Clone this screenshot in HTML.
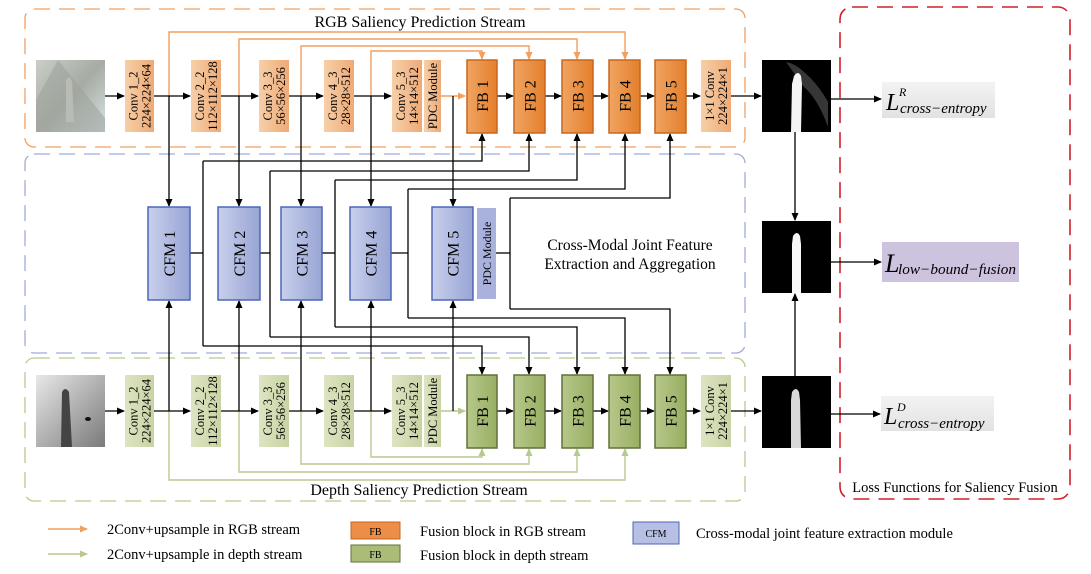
<!DOCTYPE html>
<html><head><meta charset="utf-8"><style>
body{margin:0;background:#fff}
svg{display:block;font-family:"Liberation Serif",serif}
</style></head><body>
<svg width="1091" height="574" viewBox="0 0 1091 574" xmlns="http://www.w3.org/2000/svg">
<defs>
<marker id="ab" markerWidth="8" markerHeight="8" refX="7" refY="4" orient="auto" markerUnits="userSpaceOnUse"><path d="M0,0.5 L8,4 L0,7.5 z" fill="#000"/></marker>
<marker id="ao" markerWidth="8" markerHeight="8" refX="7" refY="4" orient="auto" markerUnits="userSpaceOnUse"><path d="M0,0.5 L8,4 L0,7.5 z" fill="#f0a060"/></marker>
<marker id="ag" markerWidth="8" markerHeight="8" refX="7" refY="4" orient="auto" markerUnits="userSpaceOnUse"><path d="M0,0.5 L8,4 L0,7.5 z" fill="#b8c98e"/></marker>
<linearGradient id="gco" x1="0" x2="1"><stop offset="0" stop-color="#f7cfa8"/><stop offset="1" stop-color="#eeaa76"/></linearGradient>
<linearGradient id="gfo" x1="0" x2="1"><stop offset="0" stop-color="#f0a462"/><stop offset="1" stop-color="#e37f2c"/></linearGradient>
<linearGradient id="gcg" x1="0" x2="1"><stop offset="0" stop-color="#dde4c2"/><stop offset="1" stop-color="#c8d3a4"/></linearGradient>
<linearGradient id="gfg" x1="0" x2="1"><stop offset="0" stop-color="#b6c88a"/><stop offset="1" stop-color="#98ae62"/></linearGradient>
<linearGradient id="gcf" x1="0" x2="1"><stop offset="0" stop-color="#c8d0ec"/><stop offset="1" stop-color="#98a4d4"/></linearGradient>
<linearGradient id="grgb" x1="0" y1="0" x2="1" y2="1"><stop offset="0" stop-color="#c9cfc8"/><stop offset="0.5" stop-color="#a6aca4"/><stop offset="1" stop-color="#d7e3e3"/></linearGradient>
<linearGradient id="gdep" x1="0" y1="0" x2="1" y2="1"><stop offset="0" stop-color="#e8e8e8"/><stop offset="1" stop-color="#7a7a7a"/></linearGradient>
<linearGradient id="gloss" x1="0" y1="0" x2="0" y2="1"><stop offset="0" stop-color="#f3f3f3"/><stop offset="1" stop-color="#e2e2e2"/></linearGradient>
</defs>

<rect x="25" y="9" width="720" height="138" rx="9" fill="none" stroke="#f0a060" stroke-width="1.3" stroke-dasharray="16,9"/>
<rect x="25" y="154" width="720" height="199" rx="9" fill="none" stroke="#a0acd8" stroke-width="1.3" stroke-dasharray="16,9"/>
<rect x="25" y="358" width="720" height="143" rx="9" fill="none" stroke="#b8c98e" stroke-width="1.3" stroke-dasharray="16,9"/>
<rect x="840" y="7" width="230" height="492" rx="12" fill="none" stroke="#d0202a" stroke-width="1.6" stroke-dasharray="16,9"/>

<text x="420" y="27" font-size="16" text-anchor="middle">RGB Saliency Prediction Stream</text>
<text x="419" y="495" font-size="16" text-anchor="middle">Depth Saliency Prediction Stream</text>
<text x="630" y="250" font-size="15.5" text-anchor="middle">Cross-Modal Joint Feature</text>
<text x="630" y="269" font-size="15.5" text-anchor="middle">Extraction and Aggregation</text>
<text x="955" y="492" font-size="14.5" text-anchor="middle">Loss Functions for Saliency Fusion</text>

<g fill="none" stroke="#f0a060" stroke-width="1.4">
<path d="M169,96 V32 H625 V59" marker-end="url(#ao)"/>
<path d="M239,96 V39 H577 V59" marker-end="url(#ao)"/>
<path d="M301,96 V46 H529 V59" marker-end="url(#ao)"/>
<path d="M371,96 V51 H482 V59" marker-end="url(#ao)"/>
<path d="M441,96 H465" marker-end="url(#ao)"/>
</g>
<g fill="none" stroke="#b8c98e" stroke-width="1.4">
<path d="M169,411 V480 H625 V449" marker-end="url(#ag)"/>
<path d="M239,411 V472 H577 V449" marker-end="url(#ag)"/>
<path d="M301,411 V464 H529 V449" marker-end="url(#ag)"/>
<path d="M371,411 V457 H482 V449" marker-end="url(#ag)"/>
<path d="M441,411 H465" marker-end="url(#ag)"/>
</g>

<g fill="none" stroke="#000" stroke-width="1.3">
<path d="M105,96 H124" marker-end="url(#ab)"/>
<path d="M154,96 H190" marker-end="url(#ab)"/>
<path d="M221,96 H258" marker-end="url(#ab)"/>
<path d="M289,96 H323" marker-end="url(#ab)"/>
<path d="M354,96 H391" marker-end="url(#ab)"/>
<path d="M497,96 H513" marker-end="url(#ab)"/>
<path d="M545,96 H561" marker-end="url(#ab)"/>
<path d="M593,96 H608" marker-end="url(#ab)"/>
<path d="M640,96 H654" marker-end="url(#ab)"/>
<path d="M686,96 H700" marker-end="url(#ab)"/>
<path d="M731,96 H761" marker-end="url(#ab)"/>
<path d="M105,411 H124" marker-end="url(#ab)"/>
<path d="M154,411 H190" marker-end="url(#ab)"/>
<path d="M221,411 H258" marker-end="url(#ab)"/>
<path d="M289,411 H323" marker-end="url(#ab)"/>
<path d="M354,411 H391" marker-end="url(#ab)"/>
<path d="M497,411 H513" marker-end="url(#ab)"/>
<path d="M545,411 H561" marker-end="url(#ab)"/>
<path d="M593,411 H608" marker-end="url(#ab)"/>
<path d="M640,411 H654" marker-end="url(#ab)"/>
<path d="M686,411 H700" marker-end="url(#ab)"/>
<path d="M731,411 H761" marker-end="url(#ab)"/>
<path d="M169,96 V206" marker-end="url(#ab)"/>
<path d="M239,96 V206" marker-end="url(#ab)"/>
<path d="M301,96 V206" marker-end="url(#ab)"/>
<path d="M371,96 V206" marker-end="url(#ab)"/>
<path d="M453,96 V206" marker-end="url(#ab)"/>
<path d="M169,411 V301" marker-end="url(#ab)"/>
<path d="M239,411 V301" marker-end="url(#ab)"/>
<path d="M301,411 V301" marker-end="url(#ab)"/>
<path d="M371,411 V301" marker-end="url(#ab)"/>
<path d="M453,411 V301" marker-end="url(#ab)"/>
<path d="M190,253 H203"/><path d="M203,161 V346"/>
<path d="M203,161 H482 V134" marker-end="url(#ab)"/>
<path d="M203,346 H482 V374" marker-end="url(#ab)"/>
<path d="M260,253 H270"/><path d="M270,171 V337"/>
<path d="M270,171 H529 V134" marker-end="url(#ab)"/>
<path d="M270,337 H529 V374" marker-end="url(#ab)"/>
<path d="M322,253 H335"/><path d="M335,180 V327"/>
<path d="M335,180 H577 V134" marker-end="url(#ab)"/>
<path d="M335,327 H577 V374" marker-end="url(#ab)"/>
<path d="M391,253 H408"/><path d="M408,189 V318"/>
<path d="M408,189 H625 V134" marker-end="url(#ab)"/>
<path d="M408,318 H625 V374" marker-end="url(#ab)"/>
<path d="M496,253 H510"/><path d="M510,198 V309"/>
<path d="M510,198 H670 V134" marker-end="url(#ab)"/>
<path d="M510,309 H670 V374" marker-end="url(#ab)"/>
<path d="M795,132 V220" marker-end="url(#ab)"/>
<path d="M795,376 V294" marker-end="url(#ab)"/>
<path d="M831,99 H881" marker-end="url(#ab)"/>
<path d="M831,262 H881" marker-end="url(#ab)"/>
<path d="M831,414 H880" marker-end="url(#ab)"/>
</g>

<rect x="36" y="60" width="69" height="72" fill="url(#grgb)"/>
<path d="M58,60 L105,118 L105,132 L36,132 L36,100 Z" fill="#9ea49c" opacity="0.6"/>
<path d="M66,80 q4,-6 6,2 l2,40 h-8 z" fill="#b8bcb4"/>
<rect x="36" y="375" width="69" height="72" fill="url(#gdep)"/>
<path d="M62,392 q3,-6 7,0 l3,55 h-11 z" fill="#444"/>
<ellipse cx="88" cy="419" rx="3" ry="2" fill="#111"/>

<g font-size="12.5" text-anchor="middle">
<rect x="125" y="60" width="29" height="72" fill="url(#gco)"/>
<text transform="translate(139.5,96) rotate(-90)"><tspan x="0" y="-2">Conv 1_2</tspan><tspan x="0" y="11">224×224×64</tspan></text>
<rect x="191" y="60" width="30" height="72" fill="url(#gco)"/>
<text transform="translate(206,96) rotate(-90)"><tspan x="0" y="-2">Conv 2_2</tspan><tspan x="0" y="11">112×112×128</tspan></text>
<rect x="259" y="60" width="30" height="72" fill="url(#gco)"/>
<text transform="translate(274,96) rotate(-90)"><tspan x="0" y="-2">Conv 3_3</tspan><tspan x="0" y="11">56×56×256</tspan></text>
<rect x="324" y="60" width="30" height="72" fill="url(#gco)"/>
<text transform="translate(339,96) rotate(-90)"><tspan x="0" y="-2">Conv 4_3</tspan><tspan x="0" y="11">28×28×512</tspan></text>
<rect x="392" y="60" width="30" height="72" fill="url(#gco)"/>
<text transform="translate(407,96) rotate(-90)"><tspan x="0" y="-2">Conv 5_3</tspan><tspan x="0" y="11">14×14×512</tspan></text>
<rect x="424" y="60" width="17" height="72" fill="url(#gco)"/>
<text transform="translate(432.5,96) rotate(-90)" y="4.5">PDC Module</text>
<rect x="701" y="60" width="30" height="72" fill="url(#gco)"/>
<text transform="translate(716,96) rotate(-90)"><tspan x="0" y="-2">1×1 Conv</tspan><tspan x="0" y="11">224×224×1</tspan></text>

<rect x="125" y="375" width="29" height="72" fill="url(#gcg)"/>
<text transform="translate(139.5,411) rotate(-90)"><tspan x="0" y="-2">Conv 1_2</tspan><tspan x="0" y="11">224×224×64</tspan></text>
<rect x="191" y="375" width="30" height="72" fill="url(#gcg)"/>
<text transform="translate(206,411) rotate(-90)"><tspan x="0" y="-2">Conv 2_2</tspan><tspan x="0" y="11">112×112×128</tspan></text>
<rect x="259" y="375" width="30" height="72" fill="url(#gcg)"/>
<text transform="translate(274,411) rotate(-90)"><tspan x="0" y="-2">Conv 3_3</tspan><tspan x="0" y="11">56×56×256</tspan></text>
<rect x="324" y="375" width="30" height="72" fill="url(#gcg)"/>
<text transform="translate(339,411) rotate(-90)"><tspan x="0" y="-2">Conv 4_3</tspan><tspan x="0" y="11">28×28×512</tspan></text>
<rect x="392" y="375" width="30" height="72" fill="url(#gcg)"/>
<text transform="translate(407,411) rotate(-90)"><tspan x="0" y="-2">Conv 5_3</tspan><tspan x="0" y="11">14×14×512</tspan></text>
<rect x="424" y="375" width="17" height="72" fill="url(#gcg)"/>
<text transform="translate(432.5,411) rotate(-90)" y="4.5">PDC Module</text>
<rect x="701" y="375" width="30" height="72" fill="url(#gcg)"/>
<text transform="translate(716,411) rotate(-90)"><tspan x="0" y="-2">1×1 Conv</tspan><tspan x="0" y="11">224×224×1</tspan></text>
</g>

<g font-size="16" text-anchor="middle">
<g fill="url(#gfo)" stroke="#c8661c" stroke-width="1.5">
<rect x="467" y="60" width="30" height="73"/><rect x="514" y="60" width="31" height="73"/><rect x="562" y="60" width="31" height="73"/><rect x="609" y="60" width="31" height="73"/><rect x="655" y="60" width="31" height="73"/>
</g>
<g fill="url(#gfg)" stroke="#607238" stroke-width="1.5">
<rect x="467" y="375" width="30" height="73"/><rect x="514" y="375" width="31" height="73"/><rect x="562" y="375" width="31" height="73"/><rect x="609" y="375" width="31" height="73"/><rect x="655" y="375" width="31" height="73"/>
</g>
<text transform="translate(482,96) rotate(-90)" y="6">FB 1</text>
<text transform="translate(529.5,96) rotate(-90)" y="6">FB 2</text>
<text transform="translate(577.5,96) rotate(-90)" y="6">FB 3</text>
<text transform="translate(624.5,96) rotate(-90)" y="6">FB 4</text>
<text transform="translate(670.5,96) rotate(-90)" y="6">FB 5</text>
<text transform="translate(482,411) rotate(-90)" y="6">FB 1</text>
<text transform="translate(529.5,411) rotate(-90)" y="6">FB 2</text>
<text transform="translate(577.5,411) rotate(-90)" y="6">FB 3</text>
<text transform="translate(624.5,411) rotate(-90)" y="6">FB 4</text>
<text transform="translate(670.5,411) rotate(-90)" y="6">FB 5</text>

<g fill="url(#gcf)" stroke="#4e66b8" stroke-width="1.5">
<rect x="148" y="207" width="42" height="93"/><rect x="218" y="207" width="42" height="93"/><rect x="281" y="207" width="41" height="93"/><rect x="350" y="207" width="41" height="93"/><rect x="432" y="207" width="41" height="93"/>
</g>
<rect x="477" y="208" width="19" height="91" fill="#a9b2dd"/>
<text transform="translate(169,253.5) rotate(-90)" y="6">CFM 1</text>
<text transform="translate(239,253.5) rotate(-90)" y="6">CFM 2</text>
<text transform="translate(301.5,253.5) rotate(-90)" y="6">CFM 3</text>
<text transform="translate(370.5,253.5) rotate(-90)" y="6">CFM 4</text>
<text transform="translate(452.5,253.5) rotate(-90)" y="6">CFM 5</text>
<text transform="translate(486.5,253.5) rotate(-90)" y="4.5" font-size="12">PDC Module</text>
</g>

<rect x="762" y="60" width="69" height="72" fill="#000"/>
<path d="M786,62 q10,2 18,10 q14,12 24,30 l0,25 q-10,-28 -24,-40 z" fill="#444" opacity="0.8"/>
<path d="M794,76 q4,-6 7,0 l1,8 l-1,48 h-10 l1,-48 z" fill="#f4f4f4"/>
<rect x="762" y="221" width="69" height="72" fill="#000"/>
<path d="M793,236 q4,-6 7,0 l1,8 l0,49 h-9 l0,-49 z" fill="#f8f8f8"/>
<rect x="762" y="376" width="69" height="72" fill="#000"/>
<path d="M792,392 q4,-6 7,0 l1,8 l1,48 h-10 l0,-48 z" fill="#d8d8d8"/>

<rect x="882" y="82" width="113" height="36" fill="url(#gloss)"/>
<text x="886" y="110" font-size="24" font-style="italic">L</text>
<text x="899" y="96" font-size="12" font-style="italic">R</text>
<text x="900" y="113" font-size="15" font-style="italic">cross−entropy</text>
<rect x="882" y="242" width="137" height="40" fill="#cdc3de"/>
<text x="885" y="272" font-size="26" font-style="italic">L</text>
<text x="898" y="274" font-size="15" font-style="italic" textLength="118" lengthAdjust="spacingAndGlyphs">low−bound−fusion</text>
<rect x="881" y="396" width="113" height="35" fill="url(#gloss)"/>
<text x="884" y="424" font-size="24" font-style="italic">L</text>
<text x="897" y="411" font-size="12" font-style="italic">D</text>
<text x="898" y="428" font-size="15" font-style="italic">cross−entropy</text>

<g font-size="14.5">
<path d="M48,529 H87" stroke="#f0a060" stroke-width="1.4" marker-end="url(#ao)"/>
<text x="107" y="534">2Conv+upsample in RGB stream</text>
<path d="M48,554 H87" stroke="#b8c98e" stroke-width="1.4" marker-end="url(#ag)"/>
<text x="107" y="559">2Conv+upsample in depth stream</text>
<rect x="351" y="522" width="49" height="17" fill="#eb8f48" stroke="#c8661c"/>
<text x="375.5" y="535" font-size="10" text-anchor="middle">FB</text>
<text x="420" y="536">Fusion block in RGB stream</text>
<rect x="351" y="545" width="49" height="17" fill="#aabd78" stroke="#607238"/>
<text x="375.5" y="558" font-size="10" text-anchor="middle">FB</text>
<text x="420" y="560">Fusion block in depth stream</text>
<rect x="633" y="522" width="46" height="22" fill="#b6bfe4" stroke="#4e66b8"/>
<text x="656" y="537" font-size="10" text-anchor="middle">CFM</text>
<text x="696" y="538">Cross-modal joint feature extraction module</text>
</g>
</svg>
</body></html>
